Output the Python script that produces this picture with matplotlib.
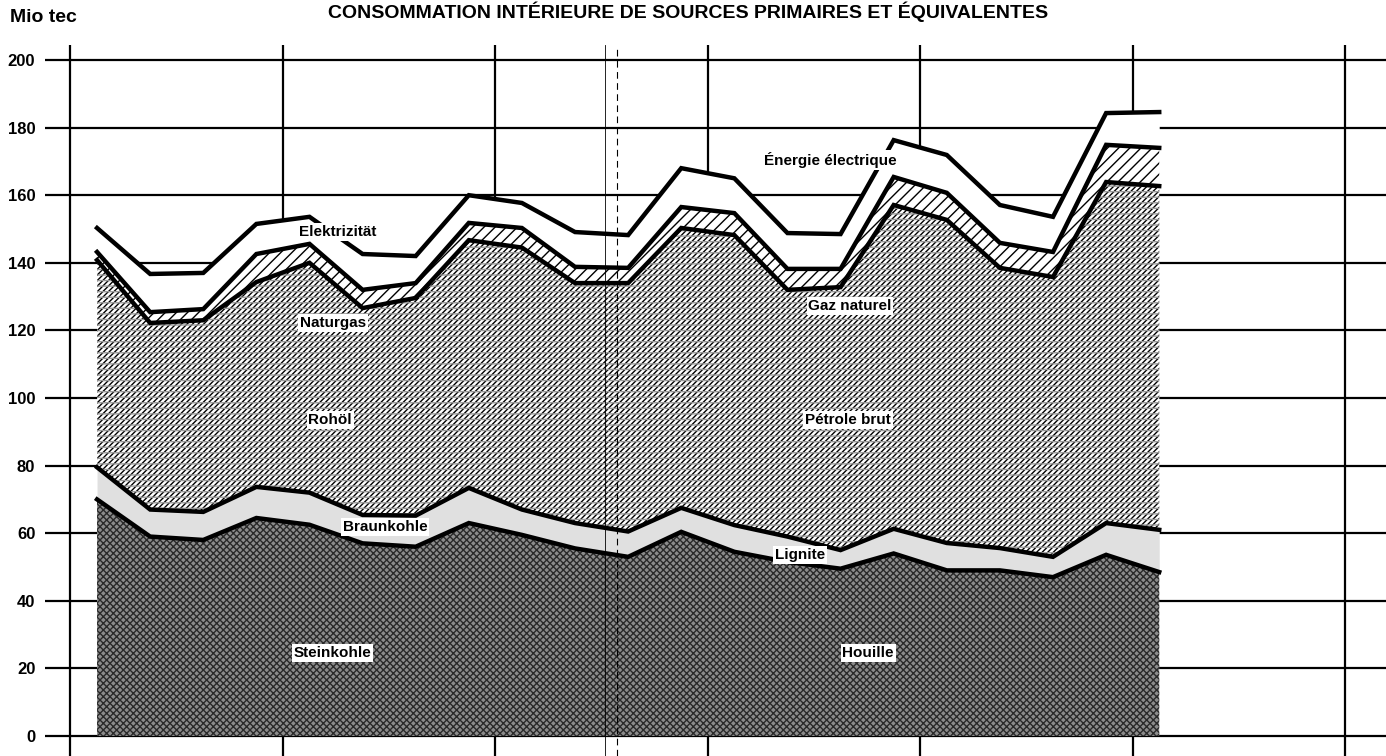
import matplotlib.pyplot as plt
import numpy as np

plt.rcParams['font.family'] = ['Liberation Sans', 'DejaVu Sans']
plt.rcParams['hatch.linewidth'] = 1.0

# quarterly values, Mio tec
quarters = np.arange(21)
steinkohle = [70, 59, 58, 64.5, 62.5, 57, 56, 63, 59.5, 55.5, 53, 60.4, 54.5, 51.5, 49.5, 54, 49, 49, 47, 53.6, 48.5]
braunkohle = [9.5, 8, 8.3, 9.2, 9.5, 8.4, 9.2, 10.4, 7.5, 7.5, 7.5, 7.1, 7.9, 7.5, 5.5, 7.3, 8.1, 6.6, 6, 9.4, 12.5]
rohoel = [61.3, 55.2, 56.7, 60.6, 68, 61.2, 64.4, 73.3, 77.5, 71, 73.5, 82.8, 85.8, 73, 77.8, 95.8, 95.6, 82.9, 82.8, 100.9, 101.7]
naturgas = [2.4, 3.2, 3.3, 8.3, 5.6, 5.4, 4.4, 5.1, 5.8, 4.8, 4.5, 6.2, 6.5, 6.2, 5.4, 8.3, 8, 7.4, 7.4, 11, 11.3]
elektrizitaet = [7.1, 11.3, 10.7, 8.9, 8, 10.6, 8, 8.2, 7.4, 10.3, 9.7, 11.5, 10.3, 10.6, 10.3, 10.9, 11.2, 11.2, 10.4, 9.4, 10.6]

labels_de = ['Steinkohle', 'Braunkohle', 'Rohöl', 'Naturgas', 'Elektrizität']
labels_fr = ['Houille', 'Lignite', 'Pétrole brut', 'Gaz naturel', 'Énergie électrique']
yticks = np.arange(0, 201, 20)
year_lines = np.arange(-0.5, 24, 4)

fig = plt.figure(figsize=(13.86, 7.56), dpi=100)
ax = fig.add_axes([45 / 1386, 0, 1 - 45 / 1386, 711 / 756])
ax.set_xlim(-0.98, 24.27)
ax.set_ylim(-5.92, 204.44)

# grid
for v in yticks:
    ax.axhline(v, color='black', lw=1.6, zorder=0)
for v in year_lines:
    ax.axvline(v, color='black', lw=1.6, zorder=0)
# fold of the scanned page
ax.axvline(9.57, color='black', lw=0.6, zorder=5)
ax.axvline(9.79, color='black', lw=0.8, ls=(0, (6, 4)), zorder=5)

series = np.vstack([steinkohle, braunkohle, rohoel, naturgas, elektrizitaet])
tops = np.cumsum(series, axis=0)
bottoms = np.vstack([np.zeros(len(quarters)), tops[:-1]])

styles = [
    dict(facecolor='#8c8c8c', hatch='xxxxx', edgecolor='#2a2a2a'),
    dict(facecolor='#e0e0e0', hatch=None, edgecolor='#e0e0e0'),
    dict(facecolor='white', hatch='//////', edgecolor='black'),
    dict(facecolor='white', hatch='///', edgecolor='black'),
    dict(facecolor='white', hatch=None, edgecolor='white'),
]
for lo, hi, st in zip(bottoms, tops, styles):
    ax.fill_between(quarters, lo, hi, linewidth=0, zorder=2, **st)
# second, lighter texture over the crude oil band
ax.fill_between(quarters, bottoms[2], tops[2], facecolor='none', hatch='---',
                edgecolor='#9a9a9a', linewidth=0, zorder=2)

for hi in tops:
    ax.plot(quarters, hi, color='black', lw=3.2, solid_joinstyle='miter', zorder=3)

# labels inside the bands
pos_de = [(4.43, 24.6), (5.42, 61.8), (4.39, 93.5), (4.44, 122.2), (4.54, 149.1)]
pos_fr = [(14.52, 24.6), (13.24, 53.6), (14.14, 93.5), (14.18, 127.2), (13.8, 170.4)]
for txt, (x, y) in zip(labels_de + labels_fr, pos_de + pos_fr):
    ax.text(x, y, txt, fontsize=11, fontweight='bold', ha='center', va='center', zorder=6,
            bbox=dict(facecolor='white', edgecolor='none', pad=1.2))

ax.set_yticks(yticks)
ax.set_yticklabels([str(v) for v in yticks], fontsize=12, fontweight='bold')
ax.tick_params(axis='y', length=0, pad=7)
ax.set_xticks([])
for s in ax.spines.values():
    s.set_visible(False)

fig.text(10 / 1386, 1 - 18 / 756, 'Mio tec', fontsize=14, fontweight='bold', va='center', ha='left')
fig.text(688 / 1386, 1 - 1 / 756, 'CONSOMMATION INTÉRIEURE DE SOURCES PRIMAIRES ET ÉQUIVALENTES',
         fontsize=14, fontweight='bold', ha='center', va='top')

fig.savefig('out.png', dpi=100)
